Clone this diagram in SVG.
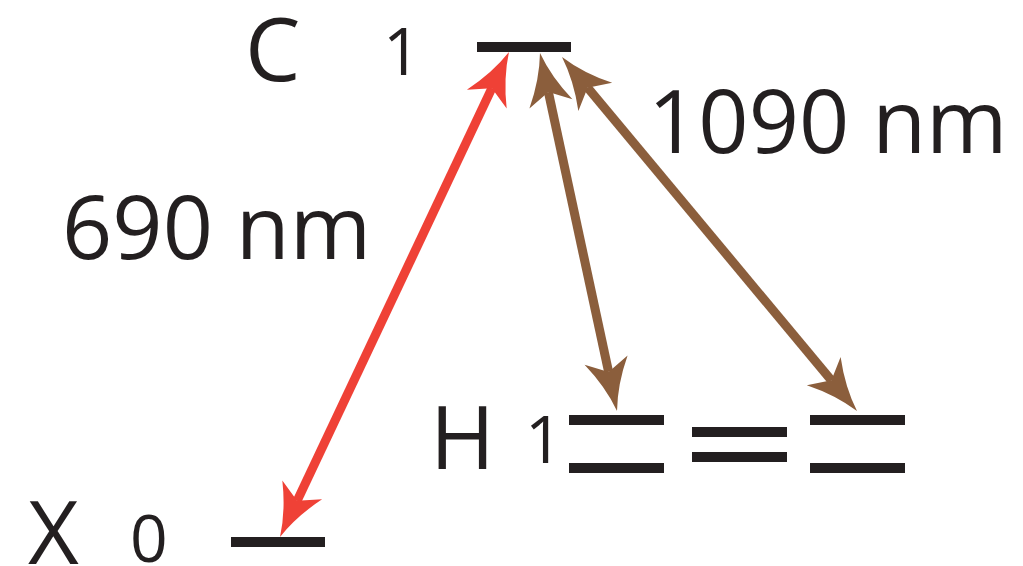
<svg xmlns="http://www.w3.org/2000/svg" width="1023" height="566" viewBox="0 0 1023 566">
<style>
.lbl{font-family:"Open Sans","Liberation Sans",sans-serif;fill:#231F20;}
.big{font-size:88px;}
.sub{font-size:66px;}
.lvl{fill:#231F20;}
.red{stroke:#EF4136;stroke-width:9;fill:none;}
.brown{stroke:#8B5E3C;stroke-width:9;fill:none;}
</style>
<defs>
<marker id="hr" markerUnits="userSpaceOnUse" markerWidth="60" markerHeight="50" viewBox="-15 -25 60 50" refX="0" refY="0" orient="auto-start-reverse">
<path d="M40,0 Q14,-6 -12,-22 L0,0 L-12,22 Q14,6 40,0 Z" fill="#EF4136"/>
</marker>
<marker id="hb" markerUnits="userSpaceOnUse" markerWidth="60" markerHeight="50" viewBox="-15 -25 60 50" refX="0" refY="0" orient="auto-start-reverse">
<path d="M40,0 Q14,-6 -12,-22 L0,0 L-12,22 Q14,6 40,0 Z" fill="#8B5E3C"/>
</marker>
</defs>
<g id="C1">
<rect class="lvl" x="477" y="42" width="94" height="10"/>
<text class="lbl big" x="245" y="81">C</text>
<text class="lbl sub" x="383" y="75">1</text>
</g>
<g id="X0">
<rect class="lvl" x="231" y="537" width="94" height="10"/>
<text class="lbl big" x="28" y="564">X</text>
<text class="lbl sub" x="130" y="562">0</text>
</g>
<g id="H1">
<rect class="lvl" x="569" y="415" width="95" height="10"/>
<rect class="lvl" x="569" y="463" width="95" height="10"/>
<rect class="lvl" x="692" y="427" width="95" height="10"/>
<rect class="lvl" x="692" y="452" width="95" height="10"/>
<rect class="lvl" x="810" y="415" width="95" height="10"/>
<rect class="lvl" x="810" y="463" width="95" height="10"/>
<text class="lbl big" x="430" y="469">H</text>
<text class="lbl sub" x="525" y="463">1</text>
</g>
<g id="labels">
<text class="lbl big" x="62" y="259">690 nm</text>
<text class="lbl big" x="648" y="153">1090 nm</text>
</g>
<g id="connectors">
<line class="red" x1="297.1" y1="500.8" x2="491.9" y2="88.2" marker-start="url(#hr)" marker-end="url(#hr)"/>
<line class="brown" x1="608.6" y1="371.9" x2="548.4" y2="92.1" marker-start="url(#hb)" marker-end="url(#hb)"/>
<line class="brown" x1="831.4" y1="380.3" x2="587.6" y2="87.7" marker-start="url(#hb)" marker-end="url(#hb)"/>
</g>
</svg>
